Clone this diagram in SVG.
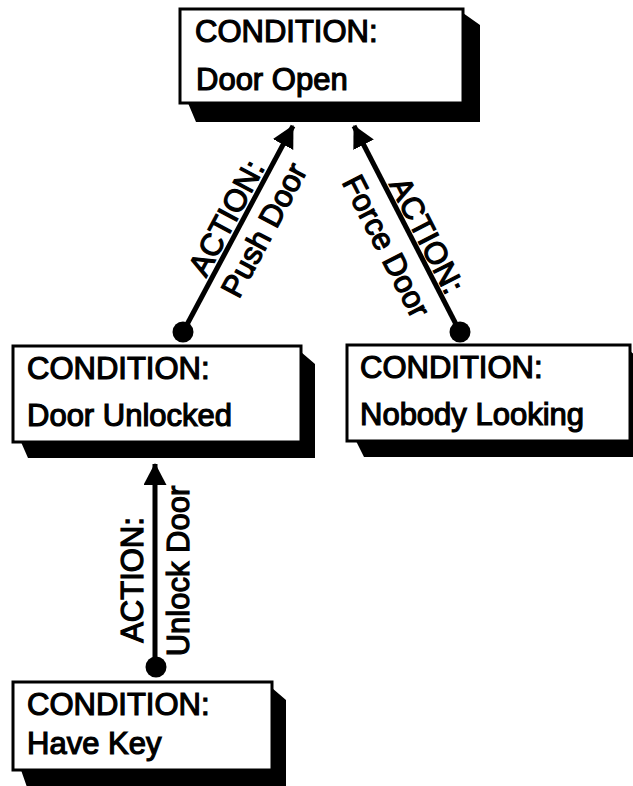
<svg xmlns="http://www.w3.org/2000/svg" width="633" height="786" viewBox="0 0 633 786">
  <style>
    .box { fill: #fff; stroke: #000; stroke-width: 3; }
    .shadow { fill: #000; }
    .lbl { font-family: "Liberation Sans", Arial, Helvetica, sans-serif; font-size: 31px; fill: #000; stroke: #000; stroke-width: 1.2; }
    .act { font-family: "Liberation Sans", Arial, Helvetica, sans-serif; font-size: 31px; fill: #000; stroke: #000; stroke-width: 1.2; text-anchor: middle; }
    .link { stroke: #000; stroke-width: 5; fill: none; }
    .tail { fill: #000; }
  </style>
  <defs>
    <marker id="head" markerWidth="5" markerHeight="5" refX="4.2" refY="2.3" orient="auto" markerUnits="strokeWidth">
      <path d="M0,0 L4.4,2.3 L0,4.6 Z" fill="#000"/>
    </marker>
  </defs>
  <rect width="633" height="786" fill="#fff"/>

  <!-- connectors: each action links a precondition to the condition it enables -->
  <g id="connectors">
    <g id="push-door">
      <line class="link" x1="183" y1="332" x2="293" y2="126" marker-end="url(#head)"/>
      <circle class="tail" cx="183" cy="332" r="10.5"/>
      <text class="act" transform="translate(235.6,222.9) rotate(-61.9)">ACTION:</text>
      <text class="act" transform="translate(273.3,235.1) rotate(-61.9)">Push Door</text>
    </g>
    <g id="force-door">
      <line class="link" x1="460" y1="332" x2="354" y2="126" marker-end="url(#head)"/>
      <circle class="tail" cx="460" cy="332" r="10.5"/>
      <text class="act" transform="translate(417.5,240.3) rotate(62.9)">ACTION:</text>
      <text class="act" transform="translate(376.9,251) rotate(62.9)">Force Door</text>
    </g>
    <g id="unlock-door">
      <line class="link" x1="155" y1="667" x2="155" y2="464" marker-end="url(#head)"/>
      <circle class="tail" cx="156" cy="667" r="10.5"/>
      <text class="act" transform="translate(143,580) rotate(-90)">ACTION:</text>
      <text class="act" transform="translate(189,571) rotate(-90)">Unlock Door</text>
    </g>
  </g>

  <g id="door-open">
    <polygon class="shadow" points="463,13 480,25 480,122 196,122 188,103 463,103"/>
    <rect class="box" x="180" y="9" width="283" height="94"/>
    <text class="lbl" x="195" y="42">CONDITION:</text>
    <text class="lbl" x="196" y="90">Door Open</text>
  </g>

  <g id="door-unlocked">
    <polygon class="shadow" points="301,352 315,364 315,458 28,458 21,442 301,442"/>
    <rect class="box" x="13" y="346" width="288" height="96"/>
    <text class="lbl" x="27" y="379">CONDITION:</text>
    <text class="lbl" x="27" y="426">Door Unlocked</text>
  </g>

  <g id="nobody-looking">
    <polygon class="shadow" points="630,351 644,363 644,457 364,457 356,441 630,441"/>
    <rect class="box" x="347" y="345" width="283" height="96"/>
    <text class="lbl" x="360" y="378">CONDITION:</text>
    <text class="lbl" x="360" y="425">Nobody Looking</text>
  </g>

  <g id="have-key">
    <polygon class="shadow" points="272,688 286,700 286,790 28,790 21,770 272,770"/>
    <rect class="box" x="13" y="682" width="259" height="88"/>
    <text class="lbl" x="27" y="715">CONDITION:</text>
    <text class="lbl" x="27" y="754">Have Key</text>
  </g>
</svg>
